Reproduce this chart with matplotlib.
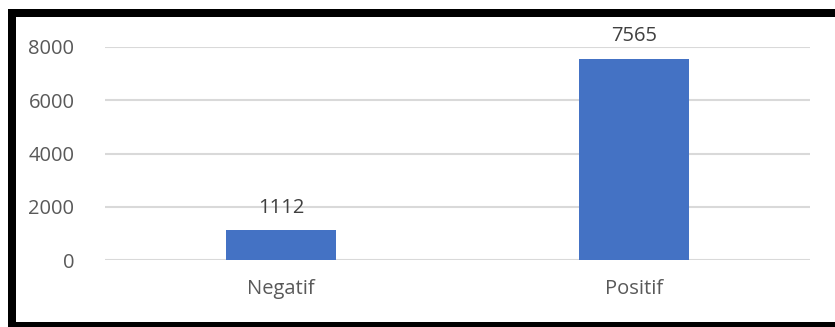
import matplotlib
matplotlib.use("Agg")
import matplotlib.pyplot as plt
from matplotlib.patches import Rectangle

categories = ["Negatif", "Positif"]
values = [1112, 7565]
yticks = [0, 2000, 4000, 6000, 8000]

W, H = 835, 327
fig = plt.figure(figsize=(W / 100, H / 100), dpi=100)
fig.patch.set_facecolor("white")

ax = fig.add_axes([105 / W, (H - 260) / H, (810 - 105) / W, (260 - 47) / H])
x = list(range(len(categories)))
bars = ax.bar(x, values, width=0.312, color="#4472C4", zorder=3)
ax.set_xlim(-0.5, len(categories) - 0.5)
ax.set_ylim(0, 8000)
ax.set_yticks(yticks)
ax.set_yticklabels([str(t) for t in yticks])
ax.set_xticks(x)
ax.set_xticklabels(categories)
ax.grid(axis="y", color="#d9d9d9", linewidth=1.5, zorder=0)
for s in ax.spines.values():
    s.set_visible(False)
ax.tick_params(axis="both", length=0, colors="#595959", labelsize=14.5)
ax.tick_params(axis="y", pad=22)
ax.tick_params(axis="x", pad=14)
for lab in ax.get_xticklabels() + ax.get_yticklabels():
    lab.set_fontfamily("Open Sans")
    lab.set_color("#595959")

for xi, v in zip(x, values):
    ax.annotate(str(v), (xi, v), xytext=(0, 9), textcoords="offset points",
                ha="center", va="bottom", fontsize=14.5, color="#404040",
                family="Open Sans")

# black frame
k = "black"
fig.add_artist(Rectangle((8 / W, 0), 8 / W, (H - 9) / H, transform=fig.transFigure,
                         facecolor=k, edgecolor="none"))
fig.add_artist(Rectangle((8 / W, (H - 17) / H), 1 - 8 / W, 8 / H, transform=fig.transFigure,
                         facecolor=k, edgecolor="none"))
fig.add_artist(Rectangle((8 / W, 0), 1 - 8 / W, 5 / H, transform=fig.transFigure,
                         facecolor=k, edgecolor="none"))

fig.savefig("out.png", dpi=100)
